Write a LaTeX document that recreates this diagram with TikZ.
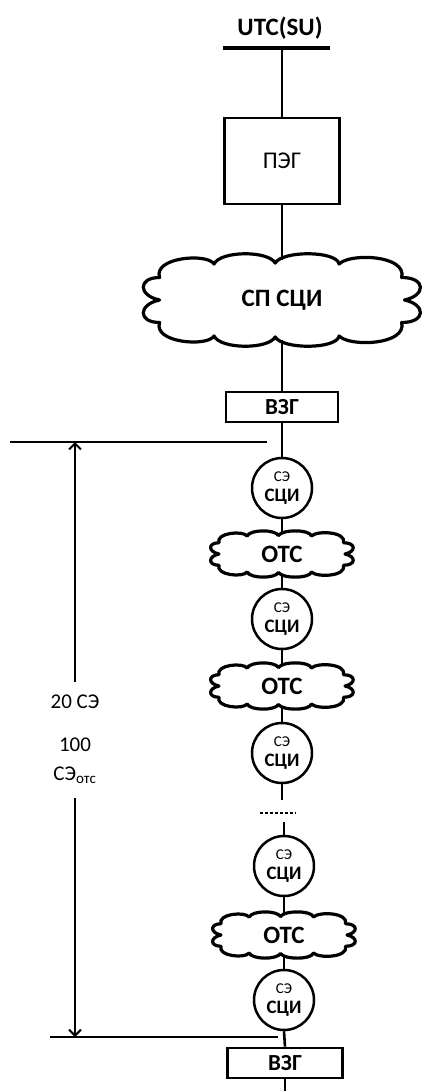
\documentclass[tikz,border=0pt]{standalone}
\usepackage{fontspec}
\setmainfont{Carlito}
\usetikzlibrary{arrows.meta}
\tikzset{
  conn/.style={line width=2.6pt},
  dimline/.style={line width=2pt},
  dimarr/.style={line width=2pt,-{Straight Barb[length=6pt,width=12pt,line width=2pt]}},
  boxnode/.style={draw,line width=2.8pt,inner sep=0pt},
  cloudline/.style={line width=3.2pt,line join=round},
  bigcloud/.style={inner sep=0pt,minimum width=262pt,minimum height=80pt,font=\fontsize{25}{25}\selectfont\bfseries},
  smallcloud/.style={inner sep=0pt,minimum width=132pt,minimum height=40pt,font=\fontsize{25}{25}\selectfont\bfseries},
  senode/.style={circle,draw,line width=2.5pt,minimum size=60pt,inner sep=0pt,align=center,font=\fontsize{15}{15}\selectfont},
  lbl/.style={font=\fontsize{21}{21}\selectfont,inner sep=0pt}
}
\newcommand{\setxt}{СЭ\\[5pt]{\fontsize{19}{19}\selectfont\bfseries СЦИ}}
\newcommand{\cloudat}[3]{%
  \begin{scope}[shift={(#1.center)},xscale=#2,yscale=#3]
  \draw[cloudline] (-0.9,0.5) .. controls (-0.95,0.95) and (-0.55,1.05) .. (-0.5,0.8)
  .. controls (-0.45,1.1) and (-0.1,1.1) .. (-0.05,0.82)
  .. controls (0.0,1.1) and (0.4,1.1) .. (0.42,0.8)
  .. controls (0.5,1.05) and (0.92,1.0) .. (0.88,0.5)
  .. controls (1.06,0.5) and (1.06,0.1) .. (0.9,0.0)
  .. controls (1.06,-0.1) and (1.06,-0.5) .. (0.88,-0.5)
  .. controls (0.92,-1.0) and (0.5,-1.05) .. (0.42,-0.8)
  .. controls (0.4,-1.1) and (0.0,-1.1) .. (-0.05,-0.82)
  .. controls (-0.1,-1.1) and (-0.45,-1.1) .. (-0.5,-0.8)
  .. controls (-0.55,-1.05) and (-0.95,-0.95) .. (-0.9,-0.5)
  .. controls (-1.06,-0.5) and (-1.06,-0.1) .. (-0.9,0.0)
  .. controls (-1.06,0.1) and (-1.06,0.5) .. (-0.9,0.5) -- cycle;
  \end{scope}}
\begin{document}
\begin{tikzpicture}[x=1pt,y=-1pt]
\useasboundingbox (0,0) rectangle (421,1091);
% top
\node[font=\fontsize{25}{25}\selectfont\bfseries,inner sep=0pt] (utc) at (280,28) {UTC(SU)};
\node[fill=black,minimum width=107pt,minimum height=4pt,inner sep=0pt] (bar) at (276.5,48) {};
\node[boxnode,minimum width=115pt,minimum height=86pt,font=\fontsize{24}{24}\selectfont] (peg) at (282,161) {ПЭГ};
\node[bigcloud] (sp) at (282,300) {СП СЦИ};
\cloudat{sp}{136}{45}
\node[boxnode,minimum width=112pt,minimum height=30pt,font=\fontsize{23}{23}\selectfont\bfseries] (vzg1) at (282,407) {ВЗГ};
% chain
\node[senode] (c1) at (282,488) {\setxt};
\node[smallcloud] (o1) at (282,554) {ОТС};
\cloudat{o1}{70}{22.5}
\node[senode] (c2) at (282,619) {\setxt};
\node[smallcloud] (o2) at (282,686) {ОТС};
\cloudat{o2}{70}{22.5}
\node[senode] (c3) at (282,753) {\setxt};
\coordinate (d1) at (282,800);
\coordinate (dl) at (260,813);
\coordinate (dr) at (296,813);
\coordinate (d2) at (284,822);
\node[senode] (c4) at (284,866) {\setxt};
\node[smallcloud] (o3) at (284,935) {ОТС};
\cloudat{o3}{70}{22.5}
\node[senode] (c5) at (284,1000) {\setxt};
\node[boxnode,minimum width=115pt,minimum height=30pt,font=\fontsize{23}{23}\selectfont\bfseries] (vzg2) at (285,1063) {ВЗГ};
\coordinate (bend) at (285,1091);
% connectors
\draw[conn] (bar.south -| peg.north) -- (peg.north);
\draw[conn] (peg.south) -- (sp.north);
\draw[conn] (sp.south) -- (vzg1.north);
\draw[conn] (vzg1.south) -- (c1.north);
\draw[conn] (c1.south) -- (o1.north);
\draw[conn] (o1.south) -- (c2.north);
\draw[conn] (c2.south) -- (o2.north);
\draw[conn] (o2.south) -- (c3.north);
\draw[conn] (c3.south) -- (d1);
\draw[line width=2pt,dash pattern=on 3pt off 2pt] (dl) -- (dr);
\draw[conn] (d2) -- (c4.north);
\draw[conn] (c4.south) -- (o3.north);
\draw[conn] (o3.south) -- (c5.north);
\draw[conn] (c5.south) -- (vzg2.north);
\draw[conn] (vzg2.south) -- (bend);
% dimension
\coordinate (h1l) at (10,442);
\coordinate (h1r) at (267,442);
\coordinate (h2l) at (50,1037);
\coordinate (h2r) at (278,1037);
\coordinate (ta) at (75,442);
\coordinate (tb) at (75,1037);
\coordinate (a1) at (75,682);
\coordinate (a2) at (75,798);
\draw[dimline] (h1l) -- (h1r);
\draw[dimline] (h2l) -- (h2r);
\draw[dimarr] (a1) -- (ta);
\draw[dimarr] (a2) -- (tb);
\node[lbl] (l20) at (75,702) {20 СЭ};
\node[lbl] (l100) at (75,745) {100};
\node[lbl] (lse) at (75,775) {СЭ\textsubscript{\fontsize{15}{15}\selectfont отс}};
\end{tikzpicture}
\end{document}
